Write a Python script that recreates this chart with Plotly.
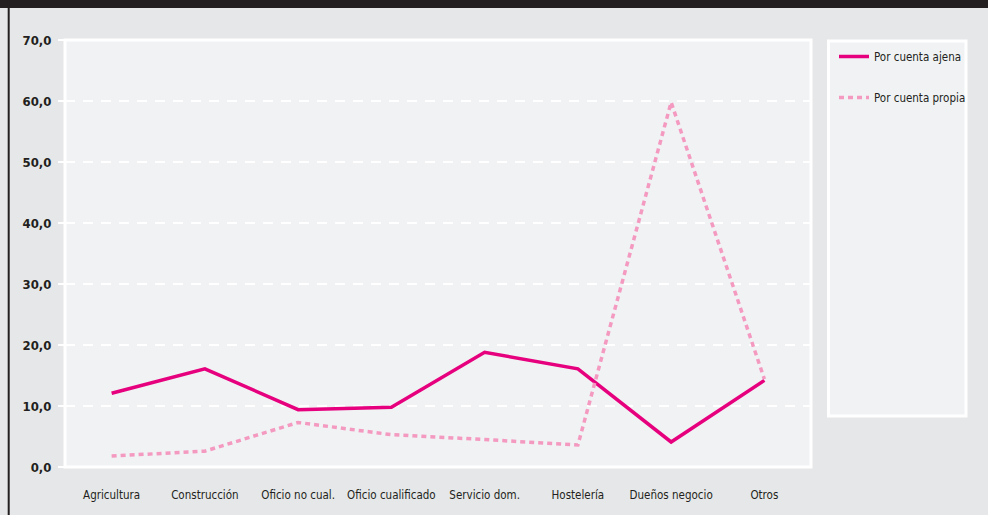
import plotly.graph_objects as go

categories = ["Agricultura", "Construcción", "Oficio no cual.", "Oficio cualificado",
              "Servicio dom.", "Hostelería", "Dueños negocio", "Otros"]
cuenta_ajena = [12.1, 16.1, 9.4, 9.8, 18.8, 16.1, 4.1, 14.2]
cuenta_propia = [1.8, 2.6, 7.3, 5.3, 4.5, 3.6, 59.8, 14.4]
y_ticks = [0, 10, 20, 30, 40, 50, 60, 70]

W, H = 988, 515
L, R, T, B = 65, 811, 40, 467
pw, ph = R - L, B - T

def px_x(x):
    return (x - L) / pw

def px_y(y):
    return (B - y) / ph

FONT = "Liberation Sans Narrow, DejaVu Sans Condensed, Roboto, sans-serif"

fig = go.Figure()
fig.add_trace(go.Scatter(x=categories, y=cuenta_ajena, mode="lines", name="Por cuenta ajena",
                         line=dict(color="#e6007e", width=3.5), legendgroup="a"))
fig.add_trace(go.Scatter(x=categories, y=cuenta_propia, mode="lines", name="Por cuenta propia",
                         line=dict(color="#f49ac1", width=3.5, dash="5px,4px"), legendgroup="b"))

shapes = [
    # top dark bar
    dict(type="rect", xref="paper", yref="paper", x0=px_x(-10), x1=px_x(W + 10),
         y0=px_y(8), y1=px_y(-10), fillcolor="#231f20", line=dict(width=0), layer="below"),
    # left dark line
    dict(type="line", xref="paper", yref="paper", x0=px_x(8.7), x1=px_x(8.7),
         y0=px_y(H + 5), y1=px_y(0), line=dict(color="#231f20", width=2), layer="below"),
    # legend box
    dict(type="rect", xref="paper", yref="paper", x0=px_x(828.5), x1=px_x(966), y0=px_y(416),
         y1=px_y(41), fillcolor="#f1f2f4", line=dict(color="white", width=3), layer="below"),
    # plot border
    dict(type="rect", xref="paper", yref="paper", x0=0, x1=1, y0=0, y1=1,
         fillcolor="rgba(0,0,0,0)", line=dict(color="white", width=3), layer="above"),
]

fig.update_layout(
    width=W, height=H,
    margin=dict(l=L, r=W - R, t=T, b=H - B, pad=0),
    paper_bgcolor="#e6e7e8",
    plot_bgcolor="#f1f2f4",
    separators=",.",
    font=dict(family=FONT, color="#231f20", size=11.5),
    shapes=shapes,
    showlegend=True,
    legend=dict(x=px_x(834), y=px_y(42), xanchor="left", yanchor="top",
                bgcolor="rgba(0,0,0,0)", borderwidth=0, tracegroupgap=22,
                traceorder="grouped", font=dict(family=FONT, size=11.5, color="#231f20"),
                itemwidth=30),
    xaxis=dict(range=[-0.5, 7.5], showgrid=False, zeroline=False, showline=False,
               ticks="outside", ticklen=0, tickfont=dict(family=FONT, size=11.5, color="#231f20"),
               ticklabelstandoff=17, fixedrange=True),
    yaxis=dict(range=[0, 70], tickvals=y_ticks, tickformat=".1f", showgrid=True,
               gridcolor="white", gridwidth=2, griddash="10px,8px", zeroline=False,
               showline=False, ticks="outside", ticklen=6, tickwidth=2, tickcolor="white",
               tickfont=dict(family=FONT, size=13, color="#231f20", weight="bold"),
               ticklabelstandoff=4, fixedrange=True),
)

fig.write_html("out.html")
